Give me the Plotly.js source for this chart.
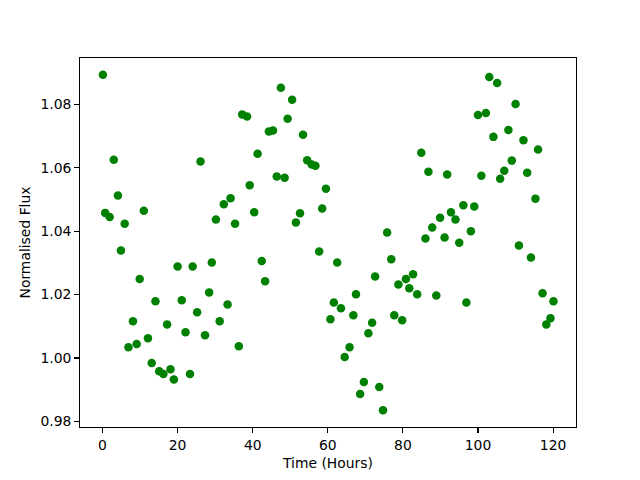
<!DOCTYPE html>
<html>
<head>
<meta charset="utf-8">
<script src="https://cdn.plot.ly/plotly-3.0.1.min.js"></script>
<style>html,body{margin:0;padding:0;background:#fff;}#chart{width:640px;height:480px;}</style>
</head>
<body>
<div id="chart"></div>
<script>
var timeHours = [0.1,0.7,1.9,3.0,4.1,4.9,5.9,6.9,8.1,9.1,9.9,11.0,12.1,13.1,14.1,15.1,16.2,17.2,18.1,19.0,
20.0,21.1,22.1,23.3,24.0,25.2,26.1,27.3,28.4,29.1,30.2,31.2,32.3,33.3,34.1,35.3,36.3,37.2,38.5,39.2,
40.4,41.3,42.4,43.3,44.3,45.4,46.4,47.5,48.5,49.3,50.5,51.5,52.6,53.4,54.5,55.7,56.7,57.7,58.5,59.5,
60.7,61.6,62.5,63.5,64.5,65.8,66.8,67.5,68.6,69.6,70.8,71.8,72.6,73.7,74.7,75.8,76.9,77.7,78.8,79.8,
80.8,81.7,82.7,83.8,84.9,86.0,86.8,87.8,88.9,89.9,91.1,91.8,92.8,94.0,95.0,96.1,96.9,98.1,99.0,100.0,
100.9,102.1,103.0,104.1,105.1,105.9,107.0,108.1,109.0,110.0,110.9,112.1,113.1,114.1,115.3,116.0,117.2,118.2,119.3,120.1];
var normalisedFlux = [1.0894,1.0458,1.0445,1.0626,1.0513,1.0339,1.0424,1.0034,1.0116,1.0044,1.0249,1.0465,1.0062,0.9984,1.0179,0.9958,0.9949,1.0106,0.9964,0.9932,
1.0289,1.0182,1.0081,0.9949,1.0289,1.0144,1.0620,1.0072,1.0207,1.0301,1.0437,1.0116,1.0485,1.0169,1.0504,1.0424,1.0037,1.0769,1.0762,1.0545,
1.0460,1.0645,1.0306,1.0242,1.0715,1.0718,1.0573,1.0853,1.0569,1.0755,1.0815,1.0428,1.0457,1.0705,1.0624,1.0611,1.0607,1.0336,1.0472,1.0534,
1.0122,1.0175,1.0301,1.0157,1.0003,1.0034,1.0135,1.0201,0.9886,0.9924,1.0078,1.0111,1.0257,0.9908,0.9835,1.0396,1.0312,1.0135,1.0232,1.0119,
1.0249,1.0220,1.0264,1.0201,1.0648,1.0377,1.0588,1.0412,1.0197,1.0443,1.0380,1.0579,1.0460,1.0437,1.0364,1.0482,1.0175,1.0400,1.0478,1.0767,
1.0575,1.0773,1.0887,1.0698,1.0868,1.0566,1.0591,1.0720,1.0623,1.0802,1.0355,1.0687,1.0585,1.0317,1.0503,1.0658,1.0204,1.0106,1.0125,1.0179];
var xTicks = [0,20,40,60,80,100,120];
var yTicks = [0.98,1.00,1.02,1.04,1.06,1.08];

var font = {family: 'DejaVu Sans', size: 13.9, color: '#000'};
var axisCommon = {
  showline: true, mirror: true, linecolor: '#000', linewidth: 1,
  ticks: 'outside', ticklen: 4.9, tickwidth: 1.1, tickcolor: '#000',
  showgrid: false, zeroline: false, tickfont: font
};
var trace = {
  x: timeHours, y: normalisedFlux, type: 'scatter', mode: 'markers',
  marker: {color: '#008000', size: 8.5, line: {width: 0}}
};
var layout = Object.assign({
  width: 640, height: 480,
  margin: {l: 80, r: 64, t: 57.6, b: 52.8},
  paper_bgcolor: '#fff', plot_bgcolor: '#fff',
  showlegend: false, font: font,
  xaxis: Object.assign({}, axisCommon, {range: [-6.0, 126.1], tickvals: xTicks, ticktext: xTicks.map(String),
    title: {text: 'Time (Hours)', font: font, standoff: 6}}),
  yaxis: Object.assign({}, axisCommon, {range: [0.9782, 1.0947], tickvals: yTicks, ticktext: yTicks.map(function(v){return v.toFixed(2);}),
    title: {text: 'Normalised Flux', font: font, standoff: 6}})
});
Plotly.newPlot('chart', [trace], layout, {displayModeBar: false, staticPlot: true});
</script>
</body>
</html>
